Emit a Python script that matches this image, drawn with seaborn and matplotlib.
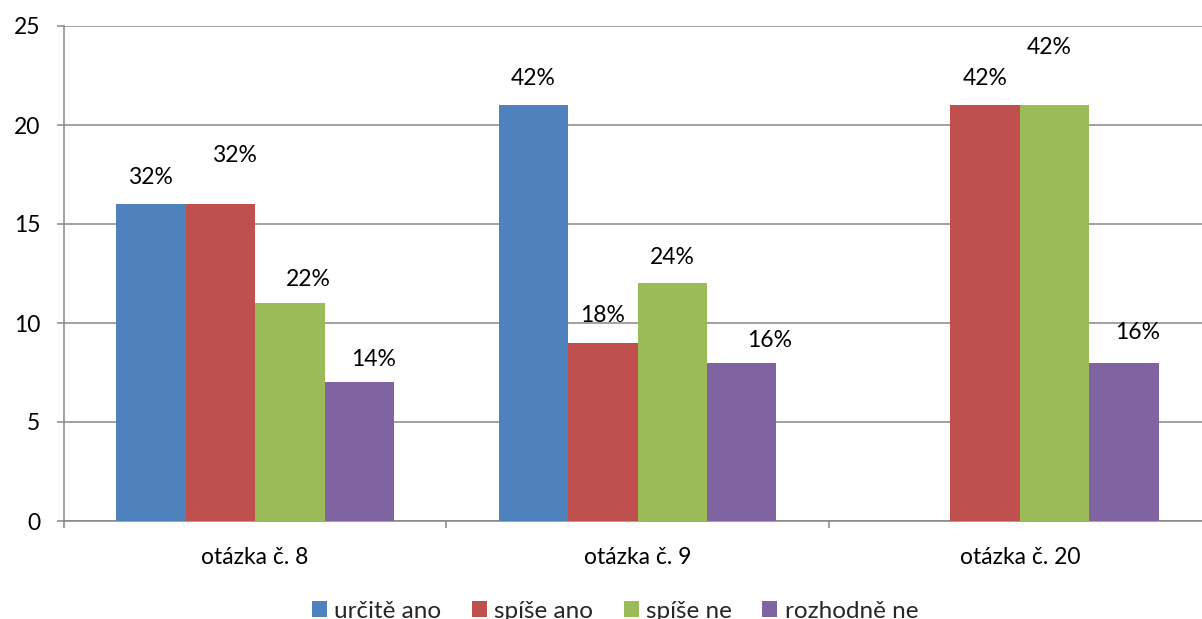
import matplotlib
matplotlib.use("Agg")
import matplotlib.pyplot as plt
import seaborn as sns
import pandas as pd

# ---- data ----
questions = ["otázka č. 8", "otázka č. 9", "otázka č. 20"]
series = ["určitě ano", "spíše ano", "spíše ne", "rozhodně ne"]
values_urcite_ano = [16, 21, 0]
values_spise_ano = [16, 9, 21]
values_spise_ne = [11, 12, 21]
values_rozhodne_ne = [7, 8, 8]
labels_urcite_ano = ["32%", "42%", ""]
labels_spise_ano = ["32%", "18%", "42%"]
labels_spise_ne = ["22%", "24%", "42%"]
labels_rozhodne_ne = ["14%", "16%", "16%"]
y_ticks = [0, 5, 10, 15, 20, 25]

colors = ["#4F81BD", "#C0504D", "#9BBB59", "#8064A2"]
# label offsets in pixels (dx, dy of label centre relative to bar top centre)
label_offsets = [
    [(0, 27), (0, 27), (0, 27)],
    [(14, 49), (0, 27), (0, 27)],
    [(18, 24), (0, 26), (-5, 58)],
    [(14, 23), (28, 22), (14, 30)],
]

all_values = [values_urcite_ano, values_spise_ano, values_spise_ne, values_rozhodne_ne]
all_labels = [labels_urcite_ano, labels_spise_ano, labels_spise_ne, labels_rozhodne_ne]

rows = []
for s, vals in zip(series, all_values):
    for q, v in zip(questions, vals):
        rows.append({"question": q, "series": s, "value": v})
df = pd.DataFrame(rows)

sns.set_theme(style="white")
plt.rcParams["font.family"] = ["Lato", "DejaVu Sans"]

W, H = 1202, 619
fig = plt.figure(figsize=(W / 100, H / 100), dpi=100)
ax_left, ax_right = 64, 1211
ax = fig.add_axes([ax_left / W, 1 - 521 / H, (ax_right - ax_left) / W, (521 - 26) / H])

sns.barplot(data=df, x="question", y="value", hue="series", order=questions,
            hue_order=series, palette=colors, width=0.727, saturation=1,
            linewidth=0, ax=ax, legend=True)

ax.set_xlim(-0.5, len(questions) - 0.5)
ax.set_ylim(0, 25)
ax.set_yticks(y_ticks)
ax.set_xlabel("")
ax.set_ylabel("")

grid_col = "#878787"
ax.yaxis.grid(True, color=grid_col, linewidth=1.1)
ax.set_axisbelow(True)
for side in ["top", "right"]:
    ax.spines[side].set_visible(False)
for side in ["left", "bottom"]:
    ax.spines[side].set_color(grid_col)
    ax.spines[side].set_linewidth(1.1)
    ax.spines[side].set_zorder(0.5)

fs = 16.5
ax.tick_params(axis="y", direction="out", length=5, width=1.1, color=grid_col,
               labelsize=fs, pad=12, left=True, labelcolor="black")
ax.set_xticks([i - 0.5 for i in range(len(questions) + 1)], minor=True)
ax.tick_params(axis="x", which="minor", direction="out", length=5, width=1.1,
               color=grid_col, bottom=True)
ax.tick_params(axis="x", which="major", length=0, labelsize=fs, pad=19,
               labelcolor="black")

# data labels
for si, cont in enumerate(ax.containers):
    for qi, bar in enumerate(cont):
        txt = all_labels[si][qi]
        if not txt:
            continue
        dx, dy = label_offsets[si][qi]
        ax.annotate(txt, (bar.get_x() + bar.get_width() / 2, bar.get_height()),
                    xytext=(dx, dy), textcoords="offset pixels",
                    ha="center", va="center", fontsize=fs, color="black",
                    annotation_clip=False)

handles, labels = ax.get_legend_handles_labels()
ax.legend(handles, labels, loc="center", bbox_to_anchor=(615 / W, 1 - 611 / H),
          bbox_transform=fig.transFigure, ncol=4, frameon=False, fontsize=17.5,
          handlelength=0.62, handleheight=0.62, handletextpad=0.3,
          columnspacing=1.25, borderpad=0)

fig.savefig("out.png", dpi=100)
